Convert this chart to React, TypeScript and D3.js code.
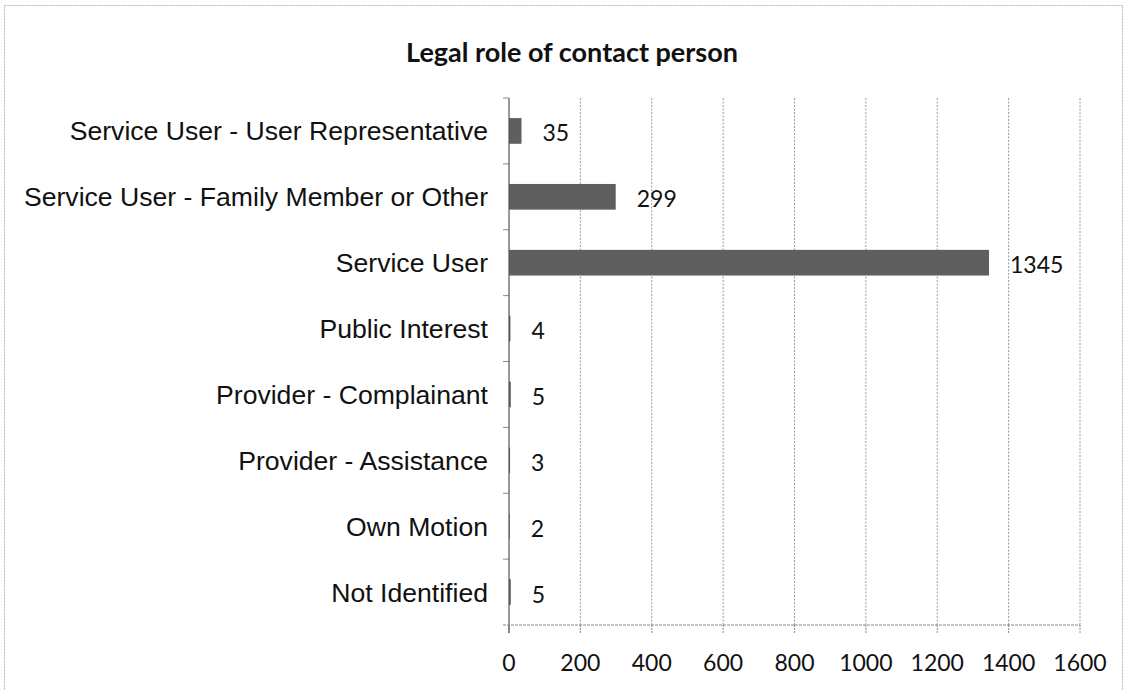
import React from "react";
import * as d3 from "d3";

const categories = [
  "Service User - User Representative",
  "Service User - Family Member or Other",
  "Service User",
  "Public Interest",
  "Provider - Complainant",
  "Provider - Assistance",
  "Own Motion",
  "Not Identified",
];
const values = [35, 299, 1345, 4, 5, 3, 2, 5];
const xTicks = [0, 200, 400, 600, 800, 1000, 1200, 1400, 1600];
const title = "Legal role of contact person";

export default function App() {
  const W = 1128, H = 690;
  const left = 509, right = 1080, top = 98, bottom = 625;
  const x = d3.scaleLinear().domain([0, 1600]).range([left, right]);
  const yb = d3.scaleBand().domain(categories).range([top, bottom]);
  const bw = yb.bandwidth();
  const barH = bw * 0.39;
  const labelFont = "'Liberation Sans', Arial, sans-serif";
  const numFont = "Lato, 'Open Sans', sans-serif";
  return (
    <svg width={W} height={H} style={{ position: "absolute", left: 0, top: 0, background: "#fff" }}>
      <rect x={4.5} y={5.5} width={1118} height={700} fill="none" stroke="#b5b5b5" strokeWidth={1} strokeDasharray="2,1" />
      <text x={572} y={62} textAnchor="middle" fontFamily={numFont} fontWeight="bold" fontSize={27} fill="#111">
        {title}
      </text>
      {xTicks.map((t) => (
        <g key={t}>
          {t > 0 && (
            <line x1={x(t)} x2={x(t)} y1={top} y2={bottom} stroke="#9a9a9a" strokeWidth={1} strokeDasharray="2,1.5" />
          )}
          <line x1={x(t)} x2={x(t)} y1={bottom} y2={bottom + 8} stroke="#888" strokeDasharray="2,1" />
          <text x={x(t)} y={671} textAnchor="middle" fontFamily={numFont} fontSize={23} fill="#111">
            {t}
          </text>
        </g>
      ))}
      {categories.map((c, i) => {
        const cy = yb(c)! + bw / 2;
        return (
          <g key={c}>
            <rect x={x(0)} y={cy - barH / 2} width={x(values[i]) - x(0)} height={barH} fill="#5f5f5f" />
            <text x={x(values[i]) + 21} y={cy + 10.5} fontFamily={numFont} fontSize={23} fill="#111">
              {values[i]}
            </text>
            <text x={488} y={cy + 9.5} textAnchor="end" fontFamily={labelFont} fontSize={26.6} fill="#111">
              {c}
            </text>
            <line x1={left - 6} x2={left} y1={yb(c)!} y2={yb(c)!} stroke="#888" />
          </g>
        );
      })}
      <line x1={left} x2={left} y1={top} y2={bottom + 8} stroke="#555" strokeWidth={1.2} />
      <line x1={left - 6} x2={right} y1={bottom} y2={bottom} stroke="#888" strokeWidth={1.2} strokeDasharray="3,1" />
    </svg>
  );
}
